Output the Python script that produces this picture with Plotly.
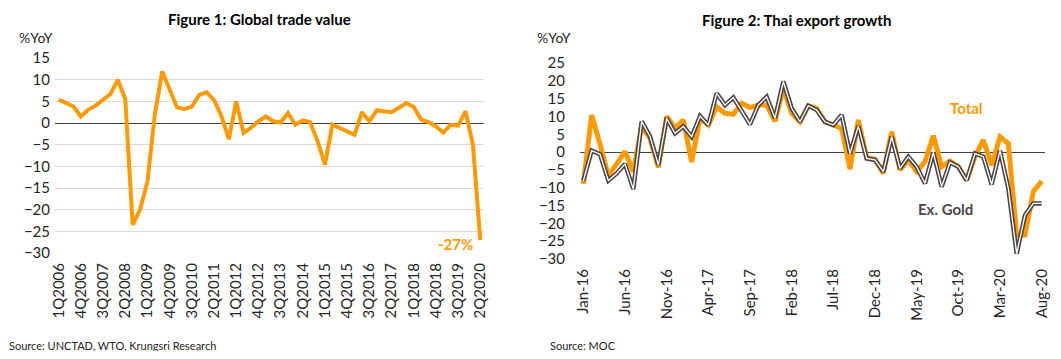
import plotly.graph_objects as go

# ---------------- Figure 1 data ----------------
quarters = [
    "1Q2006", "2Q2006", "3Q2006", "4Q2006",
    "1Q2007", "2Q2007", "3Q2007", "4Q2007",
    "1Q2008", "2Q2008", "3Q2008", "4Q2008",
    "1Q2009", "2Q2009", "3Q2009", "4Q2009",
    "1Q2010", "2Q2010", "3Q2010", "4Q2010",
    "1Q2011", "2Q2011", "3Q2011", "4Q2011",
    "1Q2012", "2Q2012", "3Q2012", "4Q2012",
    "1Q2013", "2Q2013", "3Q2013", "4Q2013",
    "1Q2014", "2Q2014", "3Q2014", "4Q2014",
    "1Q2015", "2Q2015", "3Q2015", "4Q2015",
    "1Q2016", "2Q2016", "3Q2016", "4Q2016",
    "1Q2017", "2Q2017", "3Q2017", "4Q2017",
    "1Q2018", "2Q2018", "3Q2018", "4Q2018",
    "1Q2019", "2Q2019", "3Q2019", "4Q2019",
    "1Q2020", "2Q2020",
]
global_trade = [
    5.4, 4.7, 3.8, 1.5, 3.1, 4.0, 5.3, 6.7, 10.0, 5.5,
    -23.5, -20.0, -13.5, 2.0, 11.9, 7.6, 3.6, 3.2, 3.8, 6.5,
    7.1, 5.3, 1.6, -3.7, 5.0, -2.3, -1.1, 0.4, 1.5, 0.4,
    0.1, 2.3, -0.4, 0.6, 0.2, -4.2, -9.6, -0.4, -1.2, -1.9,
    -2.7, 2.5, 0.4, 2.9, 2.7, 2.5, 3.5, 4.6, 3.7, 0.8,
    0.2, -0.8, -2.2, -0.4, -0.6, 2.7, -5.0, -27.0,
]
fig1_ticks = [
    "1Q2006", "4Q2006", "3Q2007", "2Q2008", "1Q2009", "4Q2009", "3Q2010",
    "2Q2011", "1Q2012", "4Q2012", "3Q2013", "2Q2014", "1Q2015", "4Q2015",
    "3Q2016", "2Q2017", "1Q2018", "4Q2018", "3Q2019", "2Q2020",
]

# ---------------- Figure 2 data ----------------
months = [
    "Jan-16", "Feb-16", "Mar-16", "Apr-16", "May-16", "Jun-16", "Jul-16", "Aug-16", "Sep-16", "Oct-16", "Nov-16", "Dec-16",
    "Jan-17", "Feb-17", "Mar-17", "Apr-17", "May-17", "Jun-17", "Jul-17", "Aug-17", "Sep-17", "Oct-17", "Nov-17", "Dec-17",
    "Jan-18", "Feb-18", "Mar-18", "Apr-18", "May-18", "Jun-18", "Jul-18", "Aug-18", "Sep-18", "Oct-18", "Nov-18", "Dec-18",
    "Jan-19", "Feb-19", "Mar-19", "Apr-19", "May-19", "Jun-19", "Jul-19", "Aug-19", "Sep-19", "Oct-19", "Nov-19", "Dec-19",
    "Jan-20", "Feb-20", "Mar-20", "Apr-20", "May-20", "Jun-20", "Jul-20", "Aug-20",
]
total_exports = [
    -8.9, 10.4, 2.2, -6.7, -3.3, 0.2, -5.5, 7.2, 3.9, -4.3, 10.0, 6.7,
    9.0, -2.8, 9.5, 7.6, 12.7, 10.9, 10.6, 13.7, 12.5, 13.2, 13.2, 8.6,
    18.0, 10.9, 8.5, 13.0, 12.3, 8.5, 7.6, 6.6, -4.8, 9.0, -1.5, -2.0,
    -6.0, 5.7, -5.0, -2.2, -5.5, -2.7, 4.6, -4.1, -2.5, -4.1, -7.9, -1.3,
    3.4, -3.7, 4.3, 2.4, -23.3, -23.3, -11.1, -8.1,
]
ex_gold = [
    -8.1, 0.4, -0.6, -8.0, -6.0, -3.3, -10.4, 8.6, 4.4, -3.6, 9.5, 5.3,
    7.2, 4.3, 10.1, 7.6, 16.5, 13.2, 15.3, 11.5, 7.8, 13.2, 15.5, 9.5,
    19.8, 12.3, 8.5, 13.0, 11.8, 8.5, 7.6, 10.4, -0.4, 7.3, -1.8, -2.2,
    -5.5, 4.3, -4.6, -1.3, -4.1, -8.8, -0.1, -9.7, -2.9, -4.1, -7.9, -0.4,
    -1.3, -9.1, 0.4, -10.2, -28.5, -17.7, -14.4, -14.4,
]
fig2_ticks = [
    "Jan-16", "Jun-16", "Nov-16", "Apr-17", "Sep-17", "Feb-18",
    "Jul-18", "Dec-18", "May-19", "Oct-19", "Mar-20", "Aug-20",
]

ORANGE = "#FF9900"
GRAY = "#4F4747"
FONT = "Lato"
# page body has an 8px margin; the figure is sized so that it fits the window
OFF = 8
W, H = 1061 - 2 * OFF, 359 - 2 * OFF


def px(x):
    return (x - OFF) / W


def py(y):
    return 1 - (y - OFF) / H


fig = go.Figure()

fig.add_trace(go.Scatter(
    x=quarters, y=global_trade, mode="lines",
    line=dict(color=ORANGE, width=4), xaxis="x", yaxis="y",
    showlegend=False, hoverinfo="skip",
))

fig.add_trace(go.Scatter(
    x=months, y=total_exports, mode="lines",
    line=dict(color=ORANGE, width=5), xaxis="x2", yaxis="y2",
    showlegend=False,
))
fig.add_trace(go.Scatter(
    x=months, y=ex_gold, mode="lines",
    line=dict(color=GRAY, width=4.5), xaxis="x2", yaxis="y2",
    showlegend=False,
))
fig.add_trace(go.Scatter(
    x=months, y=ex_gold, mode="lines",
    line=dict(color="white", width=1.3), xaxis="x2", yaxis="y2",
    showlegend=False, hoverinfo="skip",
))

tickfont = dict(family=FONT, size=15, color="#262626")

fig.update_layout(
    template="none",
    width=W, height=H,
    margin=dict(l=0, r=0, t=0, b=0, autoexpand=False),
    paper_bgcolor="white", plot_bgcolor="white",
    font=dict(family=FONT, color="#262626"),
    xaxis=dict(
        domain=[px(55), px(484)], type="category",
        range=[-0.5, len(quarters) - 0.5], automargin=False,
        tickmode="array", tickvals=fig1_ticks, ticktext=fig1_ticks,
        tickangle=-90, tickfont=tickfont, showgrid=False, showline=False,
        zeroline=False, ticks="", anchor="y", ticklabelstandoff=6,
    ),
    yaxis=dict(
        domain=[py(253), py(58)], range=[-30, 15], automargin=False,
        tickmode="array", tickvals=[-30, -25, -20, -15, -10, -5, 0, 5, 10, 15],
        tickfont=tickfont, showgrid=True, gridcolor="#D9D9D9", gridwidth=1,
        zeroline=True, zerolinecolor="#404040", zerolinewidth=1,
        showline=False, ticks="", anchor="x", ticklabelstandoff=4,
    ),
    xaxis2=dict(
        domain=[px(580), px(1045)], type="category",
        range=[-0.4, len(months) - 0.6], automargin=False,
        tickmode="array", tickvals=fig2_ticks, ticktext=fig2_ticks,
        tickangle=-90, tickfont=tickfont, showgrid=False, showline=False,
        zeroline=False, ticks="", anchor="y2", ticklabelstandoff=6,
    ),
    yaxis2=dict(
        domain=[py(259), py(63)], range=[-30, 25], automargin=False,
        tickmode="array", tickvals=[-30, -25, -20, -15, -10, -5, 0, 5, 10, 15, 20, 25],
        tickfont=tickfont, showgrid=False,
        zeroline=True, zerolinecolor="#404040", zerolinewidth=1,
        showline=False, ticks="", anchor="x2", ticklabelstandoff=14,
    ),
)


def note(text, x, y, size, color, xanchor="center", bold=False):
    if bold:
        text = "<b>" + text + "</b>"
    return dict(text=text, x=px(x), y=py(y), xref="paper", yref="paper",
                xanchor=xanchor, yanchor="middle", showarrow=False,
                font=dict(family=FONT, size=size, color=color))


ann = [
    note("Figure 1: Global trade value", 259, 19, 15, "#000000", bold=True),
    note("Figure 2: Thai export growth", 796, 20, 15, "#000000", bold=True),
    note("%YoY", 17, 38, 14, "#262626", xanchor="left"),
    note("%YoY", 535, 38, 14, "#262626", xanchor="left"),
    note("Source: UNCTAD, WTO, Krungsri Research", 7, 345, 11, "#262626", xanchor="left"),
    note("Source: MOC", 548, 345, 11, "#262626", xanchor="left"),
    note("-27%", 475, 244, 15, ORANGE, xanchor="right", bold=True),
    note("Total", 966, 108, 15, ORANGE, bold=True),
    note("Ex. Gold", 945, 209, 15, GRAY, bold=True),
]
fig.update_layout(annotations=ann)

fig.write_html("out.html")
